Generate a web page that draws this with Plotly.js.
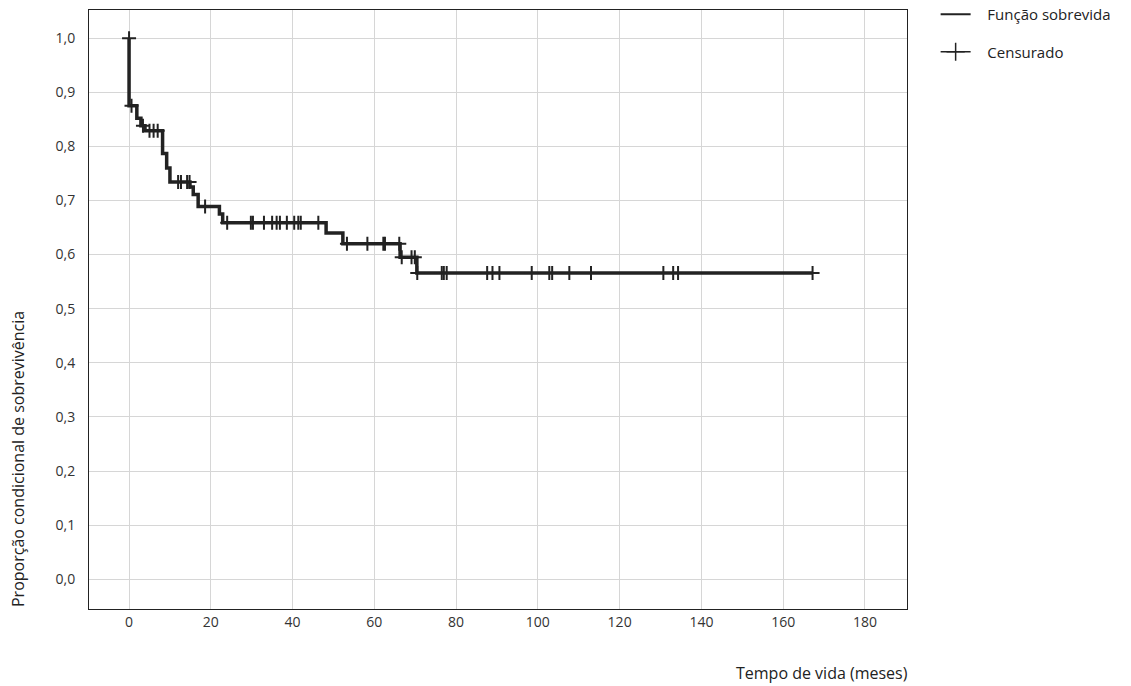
<!DOCTYPE html>
<html>
<head>
<meta charset="utf-8">
<script src="https://cdn.plot.ly/plotly-3.0.1.min.js"></script>
<style>html,body{margin:0;padding:0;background:#fff;}#chart{width:1131px;height:686px;}</style>
</head>
<body>
<div id="chart"></div>
<script>
// Kaplan-Meier step function: event times and survival after each event
const eventTimes = [0, 1.9, 2.9, 3.9, 8.2, 9.2, 10.0, 14.9, 15.7, 16.9, 22.1, 22.9, 48.2, 52.3, 66.3, 70.4];
const survivalAfter = [0.875, 0.852, 0.838, 0.829, 0.787, 0.760, 0.734, 0.725, 0.711, 0.689, 0.675, 0.659, 0.640, 0.620, 0.595, 0.566];
const startSurvival = 1.0;
const lastTime = 167.2;

// Censored observation times
const censorTimes = [0, 0.6, 3.4, 5.0, 6.0, 7.0, 12.0, 12.7, 14.2, 14.8, 18.6,
  24.0, 29.8, 30.3, 33.0, 35.0, 36.1, 36.9, 38.6, 40.4, 41.4, 42.0, 46.3,
  53.3, 58.3, 62.2, 62.6, 66.1, 66.7, 69.1, 69.9,
  70.5, 76.5, 77.0, 77.7, 87.6, 88.9, 90.6, 98.5, 102.8, 103.5, 107.7, 113.0,
  130.7, 133.1, 134.3, 167.2];

const xTickVals = [0, 20, 40, 60, 80, 100, 120, 140, 160, 180];
const yTickVals = [0, 0.1, 0.2, 0.3, 0.4, 0.5, 0.6, 0.7, 0.8, 0.9, 1.0];

const legendNames = ["Função sobrevida", "Censurado"];
const xTitle = "Tempo de vida (meses)";
const yTitle = "Proporção condicional de sobrevivência";

// build step path
const sx = [0], sy = [startSurvival];
let cur = startSurvival;
for (let i = 0; i < eventTimes.length; i++) {
  sx.push(eventTimes[i]); sy.push(cur);
  cur = survivalAfter[i];
  sx.push(eventTimes[i]); sy.push(cur);
}
sx.push(lastTime); sy.push(cur);

function survAt(t) {
  let s = startSurvival;
  for (let i = 0; i < eventTimes.length; i++) {
    if (eventTimes[i] <= t) s = survivalAfter[i];
  }
  return s;
}
const cy = censorTimes.map((t, i) => (i === 0 ? startSurvival : survAt(t)));

const col = '#222222';
const nb = '\u00a0\u00a0\u00a0';
const traces = [
  {x: sx, y: sy, mode: 'lines', showlegend: false, line: {color: col, width: 3.5}},
  {x: censorTimes, y: cy, mode: 'markers', showlegend: false,
   marker: {symbol: 'cross-thin', size: 10, line: {color: col, width: 2}, color: col}},
  {x: [null], y: [null], mode: 'lines', name: nb + legendNames[0], legendgroup: 'a',
   line: {color: col, width: 2}},
  {x: [null], y: [null], mode: 'lines+markers', name: nb + legendNames[1], legendgroup: 'b',
   line: {color: col, width: 1.5}, marker: {symbol: 'cross-thin', size: 13, line: {color: col, width: 1.5}}}
];

const layout = {
  width: 1131, height: 686,
  margin: {l: 89, r: 224, t: 10, b: 77, autoexpand: false},
  paper_bgcolor: '#fff', plot_bgcolor: '#fff',
  font: {family: 'Open Sans, Noto Sans, sans-serif', size: 14, color: '#333'},
  separators: ',.',
  showlegend: true,
  legend: {x: 1.035, xanchor: 'left', y: 1.02, yanchor: 'top', font: {size: 15, color: '#222'},
    tracegroupgap: 15, bgcolor: 'rgba(0,0,0,0)'},
  xaxis: {range: [-9.8, 190.3], tickvals: xTickVals, showgrid: true, gridcolor: '#d6d6d6', gridwidth: 1,
    zeroline: false, showline: true, linecolor: '#222', linewidth: 1, mirror: true, ticks: '',
    tickfont: {size: 14, color: '#333'}},
  yaxis: {range: [-0.055, 1.052], tickvals: yTickVals, tickformat: '.1f', showgrid: true, gridcolor: '#d6d6d6', gridwidth: 1,
    zeroline: false, showline: true, linecolor: '#222', linewidth: 1, mirror: true, ticks: '',
    tickfont: {size: 14, color: '#333'}, ticklabelstandoff: 10},
  annotations: [
    {text: xTitle, xref: 'paper', yref: 'paper', x: 1, y: 0, xanchor: 'right', yanchor: 'middle', yshift: -64, xshift: 3,
     showarrow: false, font: {size: 16, color: '#222'}},
    {text: yTitle, xref: 'paper', yref: 'paper', x: 0, y: 0, xanchor: 'center', yanchor: 'bottom', xshift: -71,
     textangle: -90, showarrow: false, font: {size: 16, color: '#222'}}
  ]
};

Plotly.newPlot('chart', traces, layout, {displayModeBar: false, staticPlot: true});
</script>
</body>
</html>
